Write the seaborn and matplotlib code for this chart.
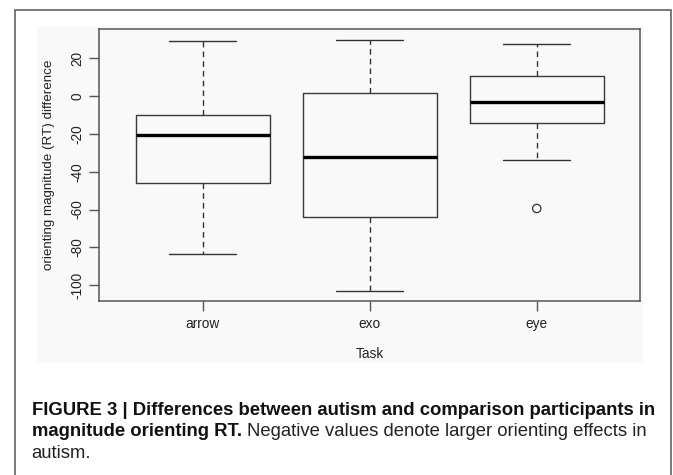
import seaborn as sns
import numpy as np
import pandas as pd
import matplotlib.pyplot as plt
from matplotlib.patches import Rectangle

# five-number summaries
tasks = ["arrow", "exo", "eye"]
lower_whisker = [-83.6, -102.8, -33.8]
lower_quartile = [-45.9, -63.8, -14.4]
medians = [-20.6, -32.3, -3.2]
upper_quartile = [-10.0, 1.8, 10.8]
upper_whisker = [29.2, 29.8, 27.7]

# points drawn outside the whiskers
outlier_task = ["eye"]
outlier_value = [-59.4]

rows = []
for i, t in enumerate(tasks):
    for v in [lower_whisker[i], lower_quartile[i], medians[i], upper_quartile[i], upper_whisker[i]]:
        rows.append({"Task": t, "value": v})
df = pd.DataFrame(rows)
out_df = pd.DataFrame({"Task": outlier_task, "value": outlier_value})

sns.set_style("white")
plt.rcParams["font.family"] = ["Liberation Sans", "DejaVu Sans"]

W, H = 673, 475
fig = plt.figure(figsize=(W / 100, H / 100), dpi=100)
fig.patch.set_facecolor("white")

# outer frame and light panel behind the plot
fig.add_artist(Rectangle((14.7 / W, -0.01), (671 - 14.7) / W, 1 - 10 / H + 0.01,
                         transform=fig.transFigure, facecolor="white",
                         edgecolor="#555555", linewidth=1.1, zorder=-2))
fig.add_artist(Rectangle((36.7 / W, 1 - 362.7 / H), (643.3 - 36.7) / W, (362.7 - 26) / H,
                         transform=fig.transFigure, facecolor="#f9f9f9",
                         edgecolor="none", zorder=-1))

ax = fig.add_axes([99.3 / W, 1 - 300.7 / H, (640.3 - 99.3) / W, (300.7 - 29.3) / H])
ax.set_facecolor("#f9f9f9")

sns.boxplot(data=df, x="Task", y="value", order=tasks, ax=ax, width=0.8,
            fill=False, color="#3a3a3a", linewidth=1.0, whis=1.5,
            medianprops=dict(color="black", linewidth=2.4),
            whiskerprops=dict(linestyle=(0, (4, 3)), color="#333333"),
            capprops=dict(color="#333333"),
            showfliers=False)
sns.stripplot(data=out_df, x="Task", y="value", order=tasks, ax=ax, jitter=False,
              marker="o", size=6, facecolor="none", edgecolor="#333333", linewidth=0.9,
              color="none")

ax.set_xlim(-0.62, 2.62)
ax.set_ylim(-108.1, 35.2)
ax.set_yticks([-100, -80, -60, -40, -20, 0, 20])
ax.set_yticklabels(["-100", "-80", "-60", "-40", "-20", "0", "20"], rotation=90, va="center")
for s in ax.spines.values():
    s.set_color("#555555")
    s.set_linewidth(1.1)
ax.tick_params(axis="both", direction="out", length=7, width=1, color="#555555",
               labelsize=9.8, labelcolor="#222222", left=True, bottom=True)
ax.tick_params(axis="y", pad=4)
ax.tick_params(axis="x", pad=5)
ax.set_xlabel("Task", fontsize=9.8, color="#222222", labelpad=11)
ax.set_ylabel("orienting magnitude (RT) difference", fontsize=9.6, color="#222222", labelpad=11)

# caption, sized so the first line spans the frame like the reference
x0 = 31.7 / W
line1 = fig.text(x0, 1 - 414.7 / H, "FIGURE 3 | Differences between autism and comparison participants in",
                 fontsize=11.5, fontweight="bold", va="baseline", color="#111111")
fig.canvas.draw()
w1 = line1.get_window_extent().width
fs = 11.5 * (660 - 31.7) / w1
line1.set_fontsize(fs)
t_bold = fig.text(x0, 1 - 436.5 / H, "magnitude orienting RT.", fontsize=fs,
                  fontweight="bold", va="baseline", color="#111111")
fig.canvas.draw()
bb = t_bold.get_window_extent()
fig.text((bb.x1 + 5) / W, 1 - 436.5 / H, "Negative values denote larger orienting effects in",
         fontsize=fs, va="baseline", color="#222222")
fig.text(x0, 1 - 457.5 / H, "autism.", fontsize=fs, va="baseline", color="#222222")

fig.savefig("out.png", dpi=100)
